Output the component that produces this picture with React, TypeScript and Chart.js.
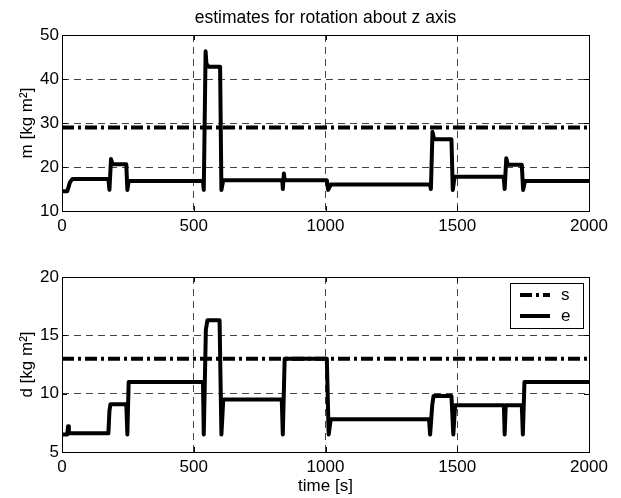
import React, { useEffect, useRef } from "react";
import { Chart, registerables } from "chart.js";
Chart.register(...registerables);

const TITLE = "estimates for rotation about z axis";
const Y_LABEL_M = "m [kg m²]";
const Y_LABEL_D = "d [kg m²]";
const X_LABEL = "time [s]";
const LEGEND_LABELS = ["s", "e"];

const xTicks = [0, 500, 1000, 1500, 2000];
const mTicks = [10, 20, 30, 40, 50];
const dTicks = [5, 10, 15, 20];

const sTime = [0, 2000];
const sM = [29, 29];
const sD = [13, 13];

const timeM = [0, 20, 30, 40, 176, 180, 186, 192, 244, 248, 253, 535, 538, 545, 548, 556, 600, 605, 612, 836, 838, 842, 845, 1005, 1010, 1020, 1396, 1400, 1406, 1412, 1478, 1483, 1490, 1676, 1680, 1686, 1692, 1745, 1750, 1757, 2000];
const estM = [14.5, 14.5, 16.5, 17.3, 17.3, 14.8, 21.8, 20.6, 20.6, 14.8, 16.8, 16.8, 14.8, 46.3, 43.5, 42.8, 42.8, 14.8, 17, 17, 15, 18.5, 17, 17, 14.8, 16, 16, 15, 28, 26.3, 26.3, 14.8, 17.8, 17.8, 15, 22, 20.5, 20.5, 14.8, 16.8, 16.8];

const timeD = [0, 20, 23, 26, 176, 180, 184, 244, 248, 253, 535, 538, 546, 552, 598, 605, 612, 834, 838, 845, 1005, 1012, 1020, 1393, 1397, 1405, 1410, 1478, 1485, 1492, 1677, 1680, 1684, 1745, 1749, 1755, 2000];
const estD = [6.5, 6.5, 7.2, 6.6, 6.6, 8.5, 9.1, 9.1, 6.5, 11, 11, 6.5, 15.5, 16.3, 16.3, 6.5, 9.5, 9.5, 6.5, 13, 13, 6.5, 7.8, 7.8, 6.5, 9, 9.8, 9.8, 6.5, 9, 9, 6.5, 9, 9, 6.5, 11, 11];

const FONT = "'Liberation Sans', Arial, Helvetica, sans-serif";
const S_DASH = [12, 4, 3, 4];

const pts = (xs: number[], ys: number[]) => xs.map((x, i) => ({ x, y: ys[i] }));

const frame = {
  id: "frame",
  afterDraw(chart: any) {
    const { ctx, chartArea: a, scales } = chart;
    ctx.save();
    ctx.strokeStyle = "#000";
    ctx.lineWidth = 1;
    ctx.setLineDash([]);
    ctx.strokeRect(Math.round(a.left) + 0.5, Math.round(a.top) + 0.5, Math.round(a.right - a.left), Math.round(a.bottom - a.top));
    const tl = 5;
    ctx.beginPath();
    scales.x.ticks.forEach((t: any) => {
      const px = Math.round(scales.x.getPixelForValue(t.value)) + 0.5;
      ctx.moveTo(px, a.bottom); ctx.lineTo(px, a.bottom - tl);
      ctx.moveTo(px, a.top); ctx.lineTo(px, a.top + tl);
    });
    scales.y.ticks.forEach((t: any) => {
      const py = Math.round(scales.y.getPixelForValue(t.value)) + 0.5;
      ctx.moveTo(a.left, py); ctx.lineTo(a.left + tl, py);
      ctx.moveTo(a.right, py); ctx.lineTo(a.right - tl, py);
    });
    ctx.stroke();
    const opts = chart.options.plugins.frame || {};
    if (opts.title) {
      ctx.fillStyle = "#000";
      ctx.font = `17.5px ${FONT}`;
      ctx.textAlign = "center";
      ctx.textBaseline = "middle";
      ctx.fillText(opts.title, (a.left + a.right) / 2, 18);
    }
    if (opts.legend) {
      const bx = 510, by = 283 - 249, bw = 73, bh = 45;
      ctx.fillStyle = "#fff";
      ctx.fillRect(bx, by, bw, bh);
      ctx.strokeStyle = "#000";
      ctx.lineWidth = 1;
      ctx.strokeRect(bx + 0.5, by + 0.5, bw, bh);
      const rows = [by + 12, by + 33];
      opts.legend.forEach((lab: string, i: number) => {
        ctx.beginPath();
        ctx.lineWidth = 4;
        ctx.setLineDash(i === 0 ? S_DASH : []);
        ctx.moveTo(bx + 10, rows[i]);
        ctx.lineTo(bx + 40, rows[i]);
        ctx.stroke();
        ctx.setLineDash([]);
        ctx.fillStyle = "#000";
        ctx.font = `17px ${FONT}`;
        ctx.textAlign = "left";
        ctx.textBaseline = "middle";
        ctx.fillText(lab, bx + 51, rows[i]);
      });
    }
    ctx.restore();
  },
};

function makeConfig(opts: {
  sTime: number[]; sVals: number[]; t: number[]; v: number[];
  yMin: number; yMax: number; yTicks: number[]; yLabel: string;
  xLabel?: string; padTop: number; xHeight: number; title?: string; legend?: string[];
}): any {
  const gridColor = (lo: number, hi: number) => (c: any) =>
    c.tick && (c.tick.value === lo || c.tick.value === hi) ? "rgba(0,0,0,0)" : "#444";
  return {
    type: "line",
    data: {
      datasets: [
        {
          label: "s", data: pts(opts.sTime, opts.sVals), borderColor: "#000", borderWidth: 4,
          borderDash: S_DASH, pointRadius: 0, tension: 0, order: 1,
        },
        {
          label: "e", data: pts(opts.t, opts.v), borderColor: "#000", borderWidth: 4,
          pointRadius: 0, tension: 0, borderJoinStyle: "round", order: 0,
        },
      ],
    },
    options: {
      animation: false,
      responsive: false,
      devicePixelRatio: 1,
      layout: { padding: { top: opts.padTop, right: 32, left: 0, bottom: 0 } },
      plugins: {
        legend: { display: false },
        tooltip: { enabled: false },
        frame: { title: opts.title, legend: opts.legend },
      },
      scales: {
        x: {
          type: "linear", min: 0, max: 2000,
          afterBuildTicks: (s: any) => { s.ticks = xTicks.map((value) => ({ value })); },
          afterFit: (s: any) => { s.height = opts.xHeight; },
          ticks: { font: { size: 17, family: FONT }, color: "#000", padding: 5, maxRotation: 0, callback: (v: any) => String(v) },
          grid: { drawTicks: false, color: gridColor(0, 2000), lineWidth: 1 },
          border: { display: false, dash: [7, 5] },
          title: opts.xLabel
            ? { display: true, text: opts.xLabel, font: { size: 17, family: FONT }, color: "#000", padding: { top: 0, bottom: 1 } }
            : { display: false },
        },
        y: {
          type: "linear", min: opts.yMin, max: opts.yMax,
          afterBuildTicks: (s: any) => { s.ticks = opts.yTicks.map((value) => ({ value })); },
          afterFit: (s: any) => { s.width = 62; },
          ticks: { font: { size: 17, family: FONT }, color: "#000", padding: 3, callback: (v: any) => String(v) },
          grid: { drawTicks: false, color: gridColor(opts.yMin, opts.yMax), lineWidth: 1 },
          border: { display: false, dash: [7, 5] },
          title: { display: true, text: opts.yLabel, font: { size: 17, family: FONT }, color: "#000", padding: { top: 17, bottom: 0 } },
        },
      },
    },
    plugins: [frame],
  };
}

function Panel({ config, top }: { config: any; top: number }) {
  const ref = useRef<HTMLCanvasElement>(null);
  useEffect(() => {
    const chart = new Chart(ref.current as HTMLCanvasElement, config);
    return () => chart.destroy();
  }, []);
  return (
    <canvas ref={ref} width={621} height={249}
      style={{ position: "absolute", left: 0, top, width: 621, height: 249 }} />
  );
}

export default function App() {
  const top = makeConfig({
    sTime, sVals: sM, t: timeM, v: estM, yMin: 10, yMax: 50, yTicks: mTicks,
    yLabel: Y_LABEL_M, padTop: 35, xHeight: 38, title: TITLE,
  });
  const bottom = makeConfig({
    sTime, sVals: sD, t: timeD, v: estD, yMin: 5, yMax: 20, yTicks: dTicks,
    yLabel: Y_LABEL_D, xLabel: X_LABEL, padTop: 28, xHeight: 46, legend: LEGEND_LABELS,
  });
  return (
    <div style={{ position: "absolute", left: 0, top: 0, width: 621, height: 498, background: "#fff" }}>
      <Panel config={top} top={0} />
      <Panel config={bottom} top={249} />
    </div>
  );
}
